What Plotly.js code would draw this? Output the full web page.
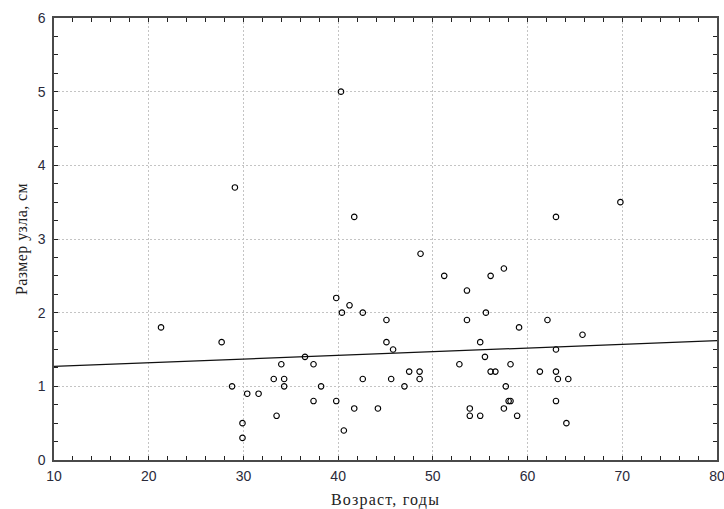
<!DOCTYPE html>
<html>
<head>
<meta charset="utf-8">
<script src="https://cdn.plot.ly/plotly-3.0.1.min.js"></script>
<style>
html,body{margin:0;padding:0;background:#fff;}
#chart{width:724px;height:509px;}
.xtitle{letter-spacing:1.2px;}
.ytitle{letter-spacing:0.4px;}
</style>
</head>
<body>
<div id="chart"></div>
<script>
const age = [21.3, 27.7, 28.8, 29.1, 29.9, 29.9, 30.4, 31.6, 33.2, 33.5, 34.0, 34.3, 34.3, 36.5, 37.4, 37.4, 38.2, 39.8, 39.8, 40.3, 40.4, 40.6, 41.2, 41.7, 41.7, 42.6, 42.6, 44.2, 45.1, 45.1, 45.6, 45.8, 47.0, 47.5, 48.6, 48.6, 48.7, 51.2, 52.8, 53.6, 53.6, 53.9, 53.9, 55.0, 55.0, 55.5, 55.6, 56.1, 56.1, 56.6, 57.5, 57.5, 57.7, 58.0, 58.2, 58.2, 58.9, 59.1, 61.3, 62.1, 63.0, 63.0, 63.0, 63.0, 63.2, 64.1, 64.3, 65.8, 69.8];
const nodeSize = [1.8, 1.6, 1.0, 3.7, 0.5, 0.3, 0.9, 0.9, 1.1, 0.6, 1.3, 1.1, 1.0, 1.4, 1.3, 0.8, 1.0, 2.2, 0.8, 5.0, 2.0, 0.4, 2.1, 3.3, 0.7, 2.0, 1.1, 0.7, 1.9, 1.6, 1.1, 1.5, 1.0, 1.2, 1.2, 1.1, 2.8, 2.5, 1.3, 2.3, 1.9, 0.7, 0.6, 1.6, 0.6, 1.4, 2.0, 2.5, 1.2, 1.2, 2.6, 0.7, 1.0, 0.8, 1.3, 0.8, 0.6, 1.8, 1.2, 1.9, 3.3, 1.5, 1.2, 0.8, 1.1, 0.5, 1.1, 1.7, 3.5];
const fitX = [10, 80];
const fitY = [1.27, 1.62];
const xTickVals = [10, 20, 30, 40, 50, 60, 70, 80];
const yTickVals = [0, 1, 2, 3, 4, 5, 6];
const xTitle = "Возраст, годы";
const yTitle = "Размер узла, см";

const traces = [
  {x: fitX, y: fitY, mode: 'lines', type: 'scatter', line: {color: '#111', width: 1.2}, hoverinfo: 'skip', cliponaxis: true},
  {x: age, y: nodeSize, mode: 'markers', type: 'scatter',
   marker: {symbol: 'circle-open', size: 5.5, color: '#000', line: {width: 1.1, color: '#000'}}}
];

const axisCommon = {
  showline: true, linecolor: '#4a4a4a', linewidth: 1.6, mirror: 'allticks',
  ticks: 'inside', ticklen: 4, tickwidth: 1, tickcolor: '#222',
  showgrid: true, gridcolor: '#c4c4c4', griddash: '2px,2px', gridwidth: 1,
  zeroline: false, ticklabeloverflow: 'allow',
  tickfont: {family: 'Liberation Sans, Arial, sans-serif', size: 14, color: '#2a2a3a'}
};

const layout = {
  width: 724, height: 509,
  margin: {l: 54, r: 7, t: 18, b: 49},
  paper_bgcolor: '#fff', plot_bgcolor: '#fff',
  showlegend: false,
  xaxis: Object.assign({}, axisCommon, {
    range: [10, 80.0001], tickvals: xTickVals, ticktext: xTickVals.map(String),
    ticklabelstandoff: 3,
    minor: {dtick: 2, ticks: 'inside', ticklen: 4, tickcolor: '#222', showgrid: false},
    title: {text: xTitle, standoff: 10, font: {family: 'Liberation Serif, Times New Roman, serif', size: 16, color: '#222'}}
  }),
  yaxis: Object.assign({}, axisCommon, {
    range: [0, 6.0001], tickvals: yTickVals, ticktext: yTickVals.map(String),
    ticklabelstandoff: 4,
    minor: {dtick: 0.25, ticks: 'inside', ticklen: 4, tickcolor: '#222', showgrid: false},
    title: {text: yTitle, standoff: 6, font: {family: 'Liberation Serif, Times New Roman, serif', size: 16, color: '#222'}}
  })
};

Plotly.newPlot('chart', traces, layout, {staticPlot: true, displayModeBar: false});
</script>
</body>
</html>
